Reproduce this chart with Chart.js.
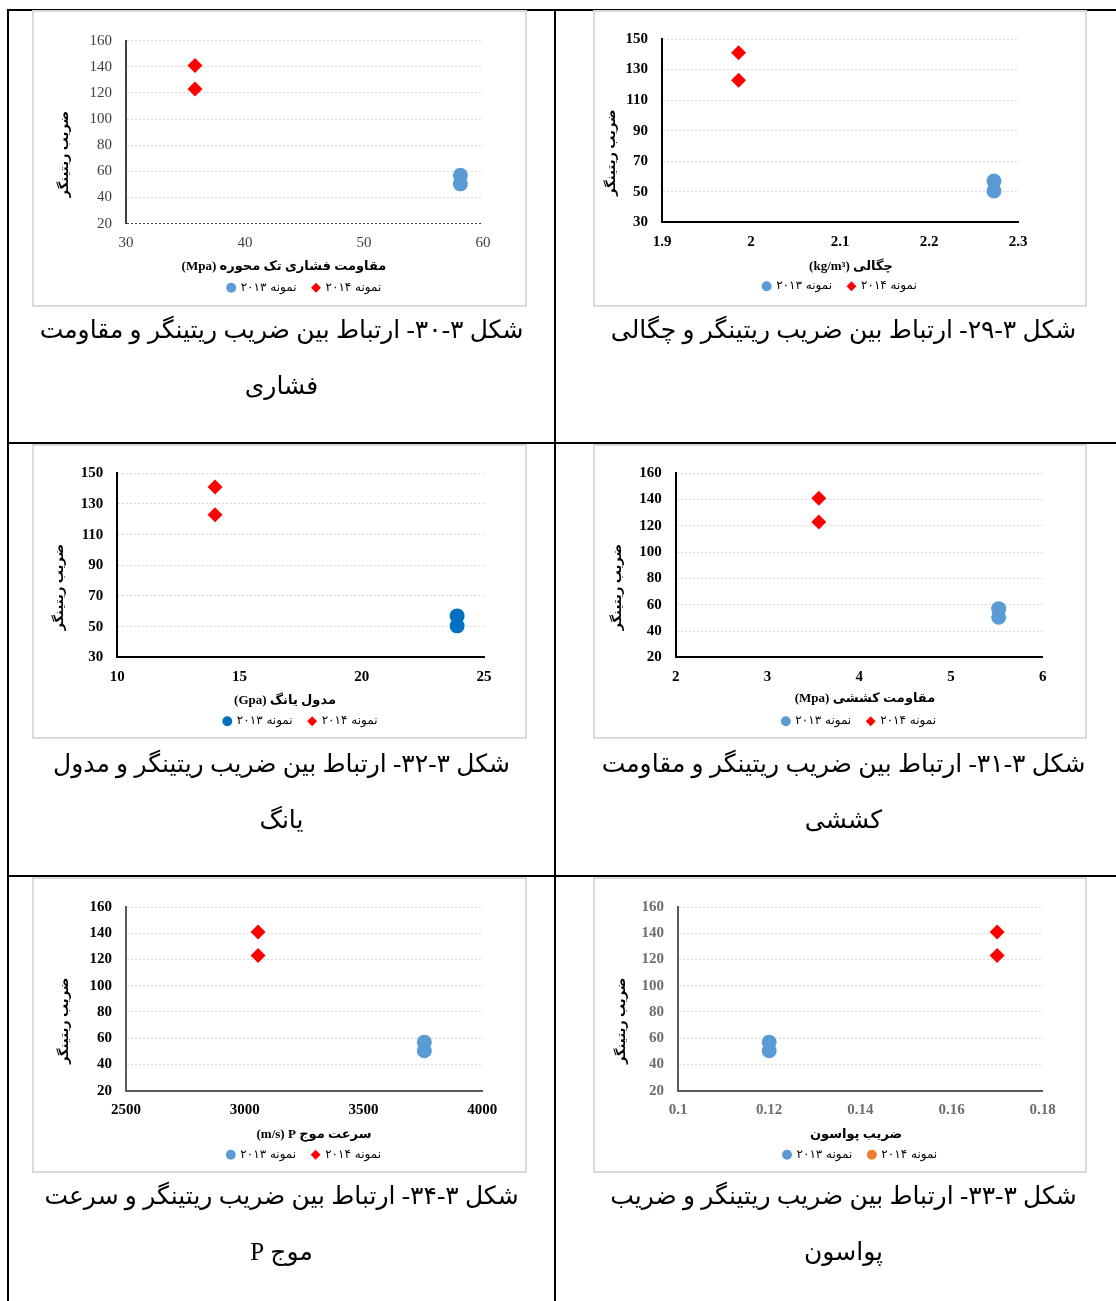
<!DOCTYPE html>
<html lang="fa">
<head>
<meta charset="utf-8">
<title>ضریب ریتینگر</title>
<script src="https://cdn.jsdelivr.net/npm/chart.js@4/dist/chart.umd.min.js"></script>
<style>
  html, body { margin: 0; padding: 0; background: #fff; }
  body { width: 1116px; height: 1301px; position: relative; overflow: hidden; }
  .rule { position: absolute; background: #000; }
  .frame { position: absolute; border: 2px solid #d9d9d9; box-sizing: border-box; }
  canvas { position: absolute; }
  .cap { position: absolute; direction: rtl; text-align: center; font-family: 'Liberation Serif', 'DejaVu Sans', serif;
         font-size: 25px; line-height: 56px; color: #000; white-space: nowrap; }
</style>
</head>
<body>
<!-- table rules -->
<div class="rule" style="left:7px;top:9px;width:1109px;height:2px"></div>
<div class="rule" style="left:7px;top:9px;width:2px;height:1292px"></div>
<div class="rule" style="left:554px;top:9px;width:2px;height:1292px"></div>
<div class="rule" style="left:7px;top:442px;width:1109px;height:2px"></div>
<div class="rule" style="left:7px;top:875px;width:1109px;height:2px"></div>

<!-- chart frames -->
<div class="frame" style="left:32px;top:10px;width:495px;height:297px"></div>
<div class="frame" style="left:593px;top:10px;width:494px;height:297px"></div>
<div class="frame" style="left:32px;top:444px;width:495px;height:295px"></div>
<div class="frame" style="left:593px;top:444px;width:494px;height:295px"></div>
<div class="frame" style="left:32px;top:877px;width:495px;height:296px"></div>
<div class="frame" style="left:593px;top:877px;width:494px;height:296px"></div>

<canvas id="c30" width="493" height="295" style="left:33px;top:11px"></canvas>
<canvas id="c29" width="493" height="295" style="left:594px;top:11px"></canvas>
<canvas id="c32" width="493" height="295" style="left:33px;top:445px"></canvas>
<canvas id="c31" width="493" height="295" style="left:594px;top:445px"></canvas>
<canvas id="c34" width="493" height="295" style="left:33px;top:878px"></canvas>
<canvas id="c33" width="493" height="295" style="left:594px;top:878px"></canvas>

<!-- captions -->
<div class="cap" style="left:9px;width:545px;top:302px">شکل ۳-۳۰- ارتباط بین ضریب ریتینگر و مقاومت<br>فشاری</div>
<div class="cap" style="left:556px;width:575px;top:302px">شکل ۳-۲۹- ارتباط بین ضریب ریتینگر و چگالی</div>
<div class="cap" style="left:9px;width:545px;top:736px">شکل ۳-۳۲- ارتباط بین ضریب ریتینگر و مدول<br>یانگ</div>
<div class="cap" style="left:556px;width:575px;top:736px">شکل ۳-۳۱- ارتباط بین ضریب ریتینگر و مقاومت<br>کششی</div>
<div class="cap" style="left:9px;width:545px;top:1168px">شکل ۳-۳۴- ارتباط بین ضریب ریتینگر و سرعت<br>موج P</div>
<div class="cap" style="left:556px;width:575px;top:1168px">شکل ۳-۳۳- ارتباط بین ضریب ریتینگر و ضریب<br>پواسون</div>

<script>
// ---- data ----
const seriesNames = ['نمونه ۲۰۱۳', 'نمونه ۲۰۱۴'];
const rating2013 = [57, 50.5];
const rating2014 = [141, 123];

const densityX2013 = [2.273, 2.273];
const densityX2014 = [1.986, 1.986];
const ucsX2013 = [58.1, 58.1];
const ucsX2014 = [35.8, 35.8];
const youngX2013 = [23.9, 23.9];
const youngX2014 = [14.0, 14.0];
const tensileX2013 = [5.52, 5.52];
const tensileX2014 = [3.56, 3.56];
const vpX2013 = [3756, 3756];
const vpX2014 = [3056, 3056];
const poissonX2013 = [0.12, 0.12];
const poissonX2014 = [0.17, 0.17];

const ratingTicks20 = [20, 40, 60, 80, 100, 120, 140, 160];
const ratingTicks30 = [30, 50, 70, 90, 110, 130, 150];
const densityTicks = [1.9, 2, 2.1, 2.2, 2.3];
const ucsTicks = [30, 40, 50, 60];
const youngTicks = [10, 15, 20, 25];
const tensileTicks = [2, 3, 4, 5, 6];
const vpTicks = [2500, 3000, 3500, 4000];
const poissonTicks = [0.1, 0.12, 0.14, 0.16, 0.18];

const ratingTitle = 'ضریب ریتینگر';
const densityTitle = 'چگالی (kg/m³)';
const ucsTitle = 'مقاومت فشاری تک محوره (Mpa)';
const youngTitle = 'مدول یانگ (Gpa)';
const tensileTitle = 'مقاومت کششی (Mpa)';
const vpTitle = 'سرعت موج P\u200F (m/s)';
const poissonTitle = 'ضریب پواسون';

// ---- drawing ----
const FONT_LATIN = "'Liberation Serif', 'DejaVu Sans', serif";
const FONT_FA = "'DejaVu Sans', sans-serif";
const CANVAS_W = 493;

// axis titles drawn right-to-left, y title rotated beside the value axis
const axisTitles = {
  id: 'axisTitles',
  afterDraw(chart, args, o) {
    const { ctx, chartArea: a } = chart;
    ctx.save();
    ctx.direction = 'rtl';
    ctx.font = 'bold 13px ' + FONT_LATIN;
    ctx.fillStyle = '#000';
    ctx.textAlign = 'center';
    ctx.textBaseline = 'middle';
    ctx.fillText(o.xText, o.xCenter, a.bottom + o.xOffset);
    ctx.translate(o.yCenter, (a.top + a.bottom) / 2 + 22);
    ctx.rotate(-Math.PI / 2);
    ctx.fillText(o.yText, 0, 0);
    ctx.restore();
  }
};

function makeChart(id, spec) {
  const st = spec.style, lay = spec.layout;
  const xt = spec.xTicks, yt = spec.yTicks;
  const tickFont = { family: FONT_LATIN, size: 15, weight: st.tickWeight };
  const marks = [
    { style: 'circle', color: st.blue },
    { style: st.legend2014Style, color: st.legend2014Color }
  ];
  return new Chart(document.getElementById(id), {
    type: 'scatter',
    data: {
      datasets: [
        { label: seriesNames[0], data: spec.x2013.map((x, i) => ({ x, y: rating2013[i] })),
          pointStyle: 'circle', pointRadius: 7.5, pointBackgroundColor: st.blue, pointBorderWidth: 0,
          backgroundColor: st.blue },
        { label: seriesNames[1], data: spec.x2014.map((x, i) => ({ x, y: rating2014[i] })),
          pointStyle: 'rectRot', pointRadius: 7.5, pointBackgroundColor: '#ff0000', pointBorderWidth: 0,
          backgroundColor: '#ff0000' }
      ]
    },
    options: {
      responsive: false, animation: false, devicePixelRatio: 1, events: [],
      layout: { padding: { left: 0, top: lay.top, right: CANVAS_W - lay.right, bottom: 215 - lay.bottom } },
      scales: {
        x: {
          type: 'linear', min: xt[0], max: xt[xt.length - 1],
          afterBuildTicks: s => { s.ticks = xt.map(v => ({ value: v })); },
          afterFit: s => { s.height = 42; },
          grid: { display: false, drawTicks: false },
          border: { display: st.xBorder, color: st.axisColor, width: 2 },
          ticks: { padding: 10.5, font: tickFont, color: st.tickColor, maxRotation: 0, autoSkip: false,
                   callback: v => String(v) }
        },
        y: {
          type: 'linear', min: yt[0], max: yt[yt.length - 1],
          afterBuildTicks: s => { s.ticks = yt.map(v => ({ value: v })); },
          afterFit: s => { s.width = lay.left; },
          grid: { drawTicks: false, lineWidth: 1,
                  color: c => (!st.xBorder && c.tick && c.tick.value === yt[0]) ? st.axisColor : '#d9d9d9' },
          border: { display: true, color: st.axisColor, width: 2, dash: [2, 2] },
          ticks: { padding: 14, font: tickFont, color: st.tickColor, callback: v => String(v) }
        }
      },
      plugins: {
        tooltip: { enabled: false },
        legend: {
          position: 'bottom', fullSize: false,
          labels: {
            usePointStyle: true, boxWidth: 7, boxHeight: 7, padding: 16, color: '#595959',
            font: { family: FONT_FA, size: 12 },
            generateLabels: chart => chart.data.datasets.map((ds, i) => ({
              text: ds.label, fillStyle: marks[i].color, strokeStyle: marks[i].color, lineWidth: 0,
              pointStyle: marks[i].style, hidden: false, datasetIndex: i
            }))
          }
        },
        axisTitles: { xText: spec.xTitle, yText: ratingTitle,
                      xCenter: lay.xTitleX, xOffset: lay.xTitleDy, yCenter: lay.yTitleX }
      }
    },
    plugins: [axisTitles]
  });
}

const plainLook = { tickWeight: 'normal', tickColor: '#404040', axisColor: '#404040', xBorder: false,
                    blue: '#5b9bd5', legend2014Style: 'rectRot', legend2014Color: '#ff0000' };
const boldLook = { tickWeight: 'bold', tickColor: '#000', axisColor: '#000', xBorder: true,
                   blue: '#5b9bd5', legend2014Style: 'rectRot', legend2014Color: '#ff0000' };

makeChart('c30', { xTicks: ucsTicks, yTicks: ratingTicks20, x2013: ucsX2013, x2014: ucsX2014, xTitle: ucsTitle,
  style: plainLook,
  layout: { left: 93, right: 450, top: 29.7, bottom: 212.7, yTitleX: 32, xTitleX: 251, xTitleDy: 43 } });

makeChart('c29', { xTicks: densityTicks, yTicks: ratingTicks30, x2013: densityX2013, x2014: densityX2014, xTitle: densityTitle,
  style: boldLook,
  layout: { left: 68, right: 424, top: 28, bottom: 211.3, yTitleX: 18, xTitleX: 257, xTitleDy: 44 } });

makeChart('c32', { xTicks: youngTicks, yTicks: ratingTicks30, x2013: youngX2013, x2014: youngX2014, xTitle: youngTitle,
  style: Object.assign({}, boldLook, { blue: '#0070c0' }),
  layout: { left: 84.3, right: 451, top: 28.3, bottom: 212.3, yTitleX: 27, xTitleX: 252, xTitleDy: 43 } });

makeChart('c31', { xTicks: tensileTicks, yTicks: ratingTicks20, x2013: tensileX2013, x2014: tensileX2014, xTitle: tensileTitle,
  style: boldLook,
  layout: { left: 81.7, right: 448.7, top: 28.3, bottom: 212.3, yTitleX: 24, xTitleX: 271, xTitleDy: 41 } });

makeChart('c34', { xTicks: vpTicks, yTicks: ratingTicks20, x2013: vpX2013, x2014: vpX2014, xTitle: vpTitle,
  style: Object.assign({}, boldLook, { axisColor: '#595959' }),
  layout: { left: 93, right: 449.3, top: 29, bottom: 212.7, yTitleX: 32, xTitleX: 281, xTitleDy: 43.6 } });

makeChart('c33', { xTicks: poissonTicks, yTicks: ratingTicks20, x2013: poissonX2013, x2014: poissonX2014, xTitle: poissonTitle,
  style: Object.assign({}, boldLook, { axisColor: '#595959', tickColor: '#6d6d6d',
                                        legend2014Style: 'circle', legend2014Color: '#ed7d31' }),
  layout: { left: 84, right: 448.7, top: 29, bottom: 212.7, yTitleX: 28, xTitleX: 262, xTitleDy: 43.6 } });
</script>
</body>
</html>
